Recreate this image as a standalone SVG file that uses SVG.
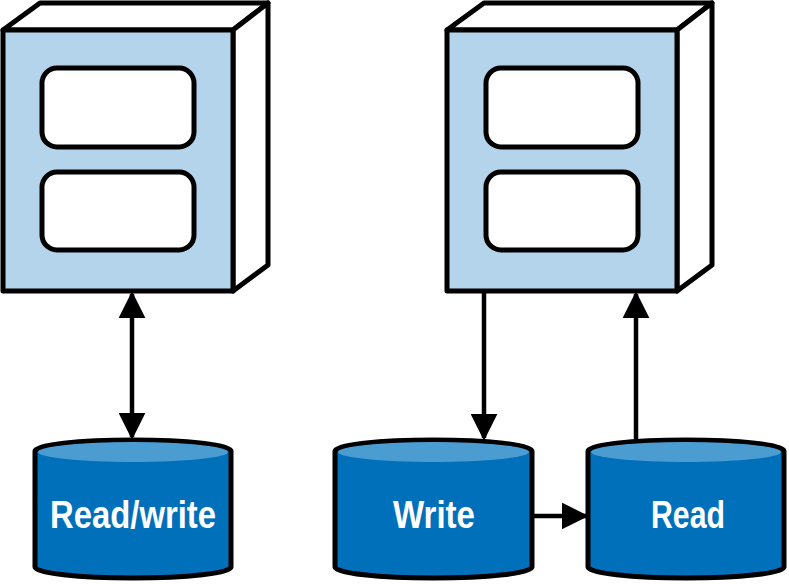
<svg xmlns="http://www.w3.org/2000/svg" width="789" height="585" viewBox="0 0 789 585">
<defs>
<style>
.f{fill:#b3d4ea;stroke:#000;stroke-width:5;stroke-linejoin:round}
.w{fill:#fff;stroke:#000;stroke-width:5;stroke-linejoin:round}
.c{fill:#0070bb;stroke:#000;stroke-width:5}
.ct{fill:#4a9cd1}
.l{stroke:#000;stroke-width:4.5;fill:none}
.t{font-family:"Liberation Sans",Arial,sans-serif;font-weight:bold;font-size:38px;fill:#fff;text-anchor:middle}
</style>
<marker id="a" viewBox="0 0 10 10" refX="9" refY="5" markerWidth="6" markerHeight="6" orient="auto-start-reverse" markerUnits="strokeWidth"><path d="M0,0L10,5L0,10z" fill="#000"/></marker>
</defs>
<g id="server1">
<path class="w" d="M3,30L40,3H268L233,30Z"/>
<path class="w" d="M233,30L268,3V265L233,291Z"/>
<rect class="f" x="3" y="30" width="230" height="261"/>
<rect class="w" x="42" y="68" width="152" height="79" rx="15"/>
<rect class="w" x="42" y="172" width="152" height="78" rx="15"/>
</g>
<g id="server2">
<path class="w" d="M447,30L484,3H712L677,30Z"/>
<path class="w" d="M677,30L712,3V265L677,291Z"/>
<rect class="f" x="447" y="30" width="230" height="261"/>
<rect class="w" x="486" y="68" width="152" height="79" rx="15"/>
<rect class="w" x="486" y="172" width="152" height="78" rx="15"/>
</g>
<g id="db1">
<path class="c" d="M35,451A98,11 0 0 1 231,451V567A98,11 0 0 1 35,567Z"/>
<path class="ct" d="M38,452A95,10 0 0 1 228,452A95,10 0 0 1 38,452Z"/>
<text class="t" x="133" y="528" textLength="166" lengthAdjust="spacingAndGlyphs">Read/write</text>
</g>
<g id="db2">
<path class="c" d="M335,451A98,11 0 0 1 532,451V567A98,11 0 0 1 335,567Z"/>
<path class="ct" d="M338,452A95,10 0 0 1 529,452A95,10 0 0 1 338,452Z"/>
<text class="t" x="434" y="528" textLength="82" lengthAdjust="spacingAndGlyphs">Write</text>
</g>
<g id="db3">
<path class="c" d="M588,451A98,11 0 0 1 784,451V567A98,11 0 0 1 588,567Z"/>
<path class="ct" d="M591,452A95,10 0 0 1 781,452A95,10 0 0 1 591,452Z"/>
<text class="t" x="688" y="528" textLength="74" lengthAdjust="spacingAndGlyphs">Read</text>
</g>
<g id="connectors">
<line class="l" x1="132" y1="294" x2="132" y2="437" marker-start="url(#a)" marker-end="url(#a)"/>
<line class="l" x1="484" y1="293" x2="484" y2="438" marker-end="url(#a)"/>
<line class="l" x1="636" y1="439" x2="636" y2="294" marker-end="url(#a)"/>
<line class="l" x1="533" y1="516" x2="586" y2="516" marker-end="url(#a)"/>
</g>
</svg>
